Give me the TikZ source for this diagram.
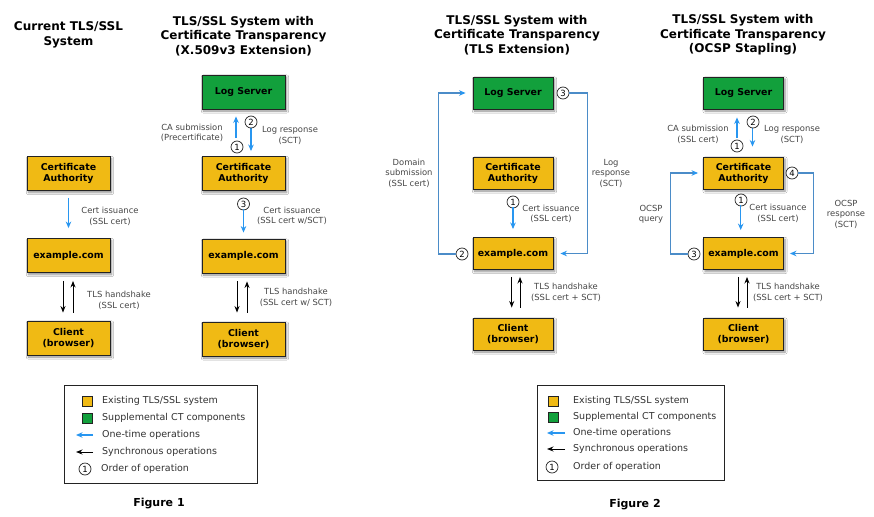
\documentclass[tikz,border=0pt]{standalone}
\usepackage{fontspec}
\setmainfont{DejaVu Sans}
\usetikzlibrary{arrows.meta,shadows.blur,calc}
\definecolor{boxyellow}{RGB}{240,186,20}
\definecolor{boxgreen}{RGB}{18,160,60}
\definecolor{onetimeblue}{RGB}{40,150,240}
\definecolor{loopblue}{RGB}{75,140,200}
\definecolor{labelgrey}{RGB}{70,70,70}
\definecolor{legendgrey}{RGB}{50,50,50}
\definecolor{boxborder}{RGB}{35,35,35}
\begin{document}
\begin{tikzpicture}[x=1pt,y=-1pt,
  sysbox/.style={draw=boxborder, line width=0.9pt, fill=boxyellow, minimum width=83pt, minimum height=34pt, inner sep=1pt, align=center, font=\bfseries\fontsize{9.4}{11}\selectfont, blur shadow={shadow xshift=1.5pt, shadow yshift=-2pt, shadow blur steps=6, shadow opacity=45}},
  sysboxb/.style={sysbox, minimum width=80pt, minimum height=32pt},
  ctbox/.style={sysbox, fill=boxgreen},
  ctboxb/.style={sysboxb, fill=boxgreen},
  onetime/.style={draw=onetimeblue, line width=1.2pt, -{Stealth[length=6.5pt,width=5.5pt]}},
  syncarrow/.style={draw=black, line width=1pt, -{Stealth[length=6.5pt,width=5pt]}},
  loopline/.style={draw=loopblue, line width=1.2pt, -{Stealth[length=6.5pt,width=5.5pt,color=onetimeblue]}},
  order/.style={circle, draw=boxborder, line width=0.7pt, minimum size=12pt, inner sep=0pt, font=\fontsize{8.5}{9}\selectfont, fill=white},
  lbl/.style={align=center, text=labelgrey, font=\fontsize{8.4}{10.5}\selectfont, inner sep=0pt},
  ttl/.style={align=center, font=\bfseries\fontsize{12}{14.5}\selectfont, inner sep=0pt},
  legtxt/.style={anchor=west, text=legendgrey, font=\fontsize{9.5}{11}\selectfont, inner sep=0pt},
  legsq/.style={draw=boxborder, line width=0.7pt, minimum width=10pt, minimum height=10pt, inner sep=0pt},
  figlbl/.style={font=\bfseries\fontsize{11}{13}\selectfont, inner sep=0pt}
]
\useasboundingbox (0,0) rectangle (874,516);
\fill[white] (0,0) rectangle (874,516);

% ---------- Column 1 ----------
\node[ttl] (t1) at (68.5,35) {Current TLS/SSL\\System};
\node[sysbox] (ca1) at (68.5,173.5) {Certificate\\Authority};
\node[sysbox] (ex1) at (68.5,255.5) {example.com};
\node[sysbox] (cl1) at (68.5,338) {Client\\(browser)};
\draw[onetime, shorten <=7pt, shorten >=10pt] (ca1.south) -- (ex1.north);
\node[lbl] (l1a) at (110,216.5) {Cert issuance\\(SSL cert)};
\draw[syncarrow, shorten <=8pt, shorten >=8pt] ([xshift=-5.5pt]ex1.south) -- ([xshift=-5.5pt]cl1.north);
\draw[syncarrow, shorten <=8pt, shorten >=8pt] ([xshift=4.5pt]cl1.north) -- ([xshift=4.5pt]ex1.south);
\node[lbl] (l1b) at (119,300.5) {TLS handshake\\(SSL cert)};

% ---------- Column 2 ----------
\node[ttl] (t2) at (243.5,36) {TLS/SSL System with\\Certificate Transparency\\(X.509v3 Extension)};
\node[ctbox] (ls2) at (243.5,92) {Log Server};
\node[sysbox] (ca2) at (243.5,173.5) {Certificate\\Authority};
\node[sysbox] (ex2) at (243.5,256) {example.com};
\node[sysbox] (cl2) at (243.5,339) {Client\\(browser)};
\draw[onetime, shorten <=18pt, shorten >=7pt] ([xshift=-7.5pt]ca2.north) -- ([xshift=-7.5pt]ls2.south);
\draw[onetime, shorten <=18pt, shorten >=5pt] ([xshift=7.5pt]ls2.south) -- ([xshift=7.5pt]ca2.north);
\node[order] (c21) at (237,147) {1};
\node[order] (c22) at (251,122) {2};
\node[lbl] (l2a) at (192,133) {CA submission\\(Precertificate)};
\node[lbl] (l2b) at (290,135.5) {Log response\\(SCT)};
\node[order] (c23) at (243.5,204) {3};
\draw[onetime, shorten <=18pt, shorten >=6pt] (ca2.south) -- (ex2.north);
\node[lbl] (l2c) at (292,216) {Cert issuance\\(SSL cert w/SCT)};
\draw[syncarrow, shorten <=8pt, shorten >=9pt] ([xshift=-6.5pt]ex2.south) -- ([xshift=-6.5pt]cl2.north);
\draw[syncarrow, shorten <=9pt, shorten >=8pt] ([xshift=3.5pt]cl2.north) -- ([xshift=3.5pt]ex2.south);
\node[lbl] (l2d) at (296,297.5) {TLS handshake\\(SSL cert w/ SCT)};

% ---------- Column 3 ----------
\node[ttl] (t3) at (517,35) {TLS/SSL System with\\Certificate Transparency\\(TLS Extension)};
\node[ctboxb] (ls3) at (513,93) {Log Server};
\node[sysboxb] (ca3) at (513,173) {Certificate\\Authority};
\node[sysboxb] (ex3) at (513,253.5) {example.com};
\node[sysboxb] (cl3) at (513,334) {Client\\(browser)};
\node[order] (c31) at (513,202) {1};
\draw[onetime, shorten <=18pt, shorten >=8pt] (ca3.south) -- (ex3.north);
\node[lbl] (l3a) at (551,214) {Cert issuance\\(SSL cert)};
\node[order] (c32) at (462,254) {2};
\node[order] (c33) at (563,93) {3};
\draw[loopline] (c32.west) -- ++(-17,0) |- ([xshift=-7pt]ls3.west);
\draw[loopline] (c33.east) -- ++(18,0) |- ([xshift=7pt]ex3.east);
\node[lbl] (l3b) at (409,173) {Domain\\submission\\(SSL cert)};
\node[lbl] (l3c) at (611,173) {Log\\response\\(SCT)};
\draw[syncarrow, shorten <=7pt, shorten >=10pt] ([xshift=-1.3pt]ex3.south) -- ([xshift=-1.3pt]cl3.north);
\draw[syncarrow, shorten <=10pt, shorten >=7pt] ([xshift=7pt]cl3.north) -- ([xshift=7pt]ex3.south);
\node[lbl] (l3d) at (566,292.5) {TLS handshake\\(SSL cert + SCT)};

% ---------- Column 4 ----------
\node[ttl] (t4) at (743,35) {TLS/SSL System with\\Certificate Transparency\\(OCSP Stapling)};
\node[ctboxb] (ls4) at (743.5,93) {Log Server};
\node[sysboxb] (ca4) at (743.5,173) {Certificate\\Authority};
\node[sysboxb] (ex4) at (743.5,253.5) {example.com};
\node[sysboxb] (cl4) at (743.5,334) {Client\\(browser)};
\draw[onetime, shorten <=19pt, shorten >=8pt] ([xshift=-6.5pt]ca4.north) -- ([xshift=-6.5pt]ls4.south);
\draw[onetime, shorten <=19pt, shorten >=10pt] ([xshift=9pt]ls4.south) -- ([xshift=9pt]ca4.north);
\node[order] (c41) at (737,146) {1};
\node[order] (c42) at (753,122) {2};
\node[lbl] (l4a) at (698,134.5) {CA submission\\(SSL cert)};
\node[lbl] (l4b) at (792,134.5) {Log response\\(SCT)};
\node[order] (c41b) at (741,200) {1};
\draw[onetime, shorten <=16pt, shorten >=7pt] ([xshift=-2.8pt]ca4.south) -- ([xshift=-2.8pt]ex4.north);
\node[lbl] (l4c) at (778,213.5) {Cert issuance\\(SSL cert)};
\node[order] (c43) at (694,254) {3};
\node[order] (c44) at (792,173) {4};
\draw[loopline] (c43.west) -- ++(-17,0) |- ([xshift=-5pt]ca4.west);
\draw[loopline] (c44.east) -- ++(15,0) |- ([xshift=6pt]ex4.east);
\node[lbl] (l4d) at (651,214.5) {OCSP\\query};
\node[lbl] (l4e) at (846,214) {OCSP\\response\\(SCT)};
\draw[syncarrow, shorten <=7pt, shorten >=10pt] ([xshift=-5.5pt]ex4.south) -- ([xshift=-5.5pt]cl4.north);
\draw[syncarrow, shorten <=10pt, shorten >=7pt] ([xshift=3.5pt]cl4.north) -- ([xshift=3.5pt]ex4.south);
\node[lbl] (l4f) at (788,292.5) {TLS handshake\\(SSL cert + SCT)};

% ---------- Legend 1 ----------
\draw[draw=boxborder, line width=0.8pt] (64,385) rectangle (257,483);
\node[legsq, fill=boxyellow] (ly1) at (87,401) {};
\node[legtxt] (lt1) at (102,401) {Existing TLS/SSL system};
\node[legsq, fill=boxgreen] (lg1) at (87,418) {};
\node[legtxt] (lt2) at (102,418) {Supplemental CT components};
\coordinate (lo1s) at (93,435);
\coordinate (lo1e) at (76,435);
\draw[onetime] (lo1s) -- (lo1e);
\node[legtxt] (lt3) at (102,435) {One-time operations};
\coordinate (ls1s) at (93,452);
\coordinate (ls1e) at (76,452);
\draw[syncarrow] (ls1s) -- (ls1e);
\node[legtxt] (lt4) at (102,452) {Synchronous operations};
\node[order] (lc1) at (85,469) {1};
\node[legtxt] (lt5) at (101,469) {Order of operation};
\node[figlbl] (f1) at (159,504) {Figure 1};

% ---------- Legend 2 ----------
\draw[draw=boxborder, line width=0.8pt] (537,385) rectangle (724,480);
\node[legsq, fill=boxyellow] (ly2) at (553,401) {};
\node[legtxt] (mt1) at (573,401) {Existing TLS/SSL system};
\node[legsq, fill=boxgreen] (lg2) at (553,417) {};
\node[legtxt] (mt2) at (573,417) {Supplemental CT components};
\coordinate (lo2s) at (565,433);
\coordinate (lo2e) at (547,433);
\draw[onetime] (lo2s) -- (lo2e);
\node[legtxt] (mt3) at (573,433) {One-time operations};
\coordinate (ls2s) at (565,449);
\coordinate (ls2e) at (547,449);
\draw[syncarrow] (ls2s) -- (ls2e);
\node[legtxt] (mt4) at (573,449) {Synchronous operations};
\node[order] (lc2) at (552,467) {1};
\node[legtxt] (mt5) at (573,467) {Order of operation};
\node[figlbl] (f2) at (635,505) {Figure 2};
\end{tikzpicture}
\end{document}
